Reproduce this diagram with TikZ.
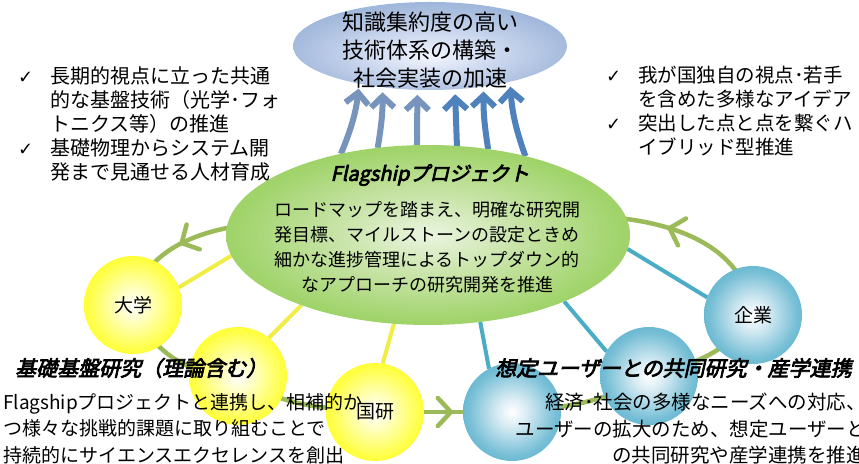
\documentclass[tikz,border=0pt]{standalone}
\usepackage{fontspec}
\usepackage{tikz}
\usetikzlibrary{shapes.geometric,arrows.meta,decorations.markings,backgrounds}
\setmainfont{Noto Sans CJK JP}
\newfontfamily\titlefont{Noto Sans CJK JP}[FakeSlant=0.22,FakeBold=3.5]
\newfontfamily\checkfont{DejaVu Sans}

\definecolor{linkblue}{RGB}{75,172,198}
\definecolor{linkyellow}{RGB}{240,238,70}
\definecolor{loopgreen}{RGB}{155,187,89}
\definecolor{arrowgray}{RGB}{118,148,188}
\definecolor{arrowblue}{RGB}{79,129,189}

\pgfdeclareradialshading{yellowball}{\pgfpoint{0bp}{0bp}}{rgb(0bp)=(1,1,1); rgb(7bp)=(1,1,0.8); rgb(22bp)=(1,1,0.3); rgb(33bp)=(1,1,0); rgb(50bp)=(1,1,0)}
\pgfdeclareradialshading{blueball}{\pgfpoint{0bp}{0bp}}{rgb(0bp)=(1,1,1); rgb(7bp)=(0.86,0.93,0.96); rgb(22bp)=(0.47,0.75,0.84); rgb(33bp)=(0.29,0.67,0.78); rgb(50bp)=(0.29,0.67,0.78)}
\pgfdeclareradialshading{flagshade}{\pgfpoint{0bp}{0bp}}{rgb(0bp)=(0.92,0.96,0.88); rgb(10bp)=(0.8,0.9,0.68); rgb(24bp)=(0.63,0.83,0.42); rgb(34bp)=(0.57,0.81,0.31); rgb(50bp)=(0.57,0.81,0.31)}
\pgfdeclareradialshading{goalshade}{\pgfpoint{0bp}{-6bp}}{rgb(0bp)=(0.95,0.96,0.99); rgb(10bp)=(0.83,0.87,0.95); rgb(24bp)=(0.66,0.74,0.87); rgb(34bp)=(0.55,0.67,0.84); rgb(50bp)=(0.55,0.67,0.84)}

\newcommand{\listmark}{\makebox[32pt][l]{\checkfont\fontsize{18}{18}\selectfont ✓}}

\tikzset{
	orb/.style={circle, minimum size=98pt, inner sep=0pt, outer sep=0pt, font=\fontsize{19}{19}\selectfont}, % the small circles
	uniorb/.style={orb, shading=yellowball}, % university / national labs
	firmorb/.style={orb, shading=blueball}, % companies / users
	yellowlink/.style={draw=linkyellow, line width=4pt},
	bluelink/.style={draw=linkblue, line width=4pt},
	loopline/.style={draw=loopgreen, line width=4.5pt},
	loopmark/.style={postaction={decorate}, decoration={markings, mark=at position #1 with {\arrow[loopgreen, line width=4.5pt]{Straight Barb[length=13pt,width=28pt,round]}}}},
	uparrow/.style={draw=#1, line width=6pt, -{Straight Barb[length=11pt,width=23pt]}, shorten >=5pt},
	listtext/.style={anchor=north west, inner sep=0pt},
}

\begin{document}
\begin{tikzpicture}[x=1pt,y=1pt]
\useasboundingbox (0,0) rectangle (859,463);

% the two ellipses
\node[ellipse, minimum width=274pt, minimum height=88pt, inner sep=0pt, outer sep=0pt, shading=goalshade] (goal) at (430,417) {};
\node[align=center, font=\fontsize{22}{28}\selectfont] (goaltext) at (430,413) {知識集約度の高い\\技術体系の構築・\\社会実装の加速};

\node[ellipse, minimum width=404pt, minimum height=180pt, inner sep=0pt, outer sep=0pt, shading=flagshade] (flag) at (428,228) {};
\node[font=\titlefont\fontsize{20}{20}\selectfont] (flagtitle) at (430,288) {Flagshipプロジェクト};
\node[align=center, font=\fontsize{18}{25}\selectfont] (flagtext) at (427,216) {ロードマップを踏まえ、明確な研究開\\発目標、マイルストーンの設定ときめ\\細かな進捗管理によるトップダウン的\\なアプローチの研究開発を推進};

% partners
\node[uniorb] (daigaku) at (133,158) {大学};
\node[uniorb] (kiso) at (238,87) {};
\node[uniorb] (kokken) at (375,51) {国研};
\node[firmorb] (kyodo) at (512,51) {};
\node[firmorb] (sangaku) at (649,87) {};
\node[firmorb] (kigyo) at (753,148) {企業};

% side notes
\node[listtext, font=\fontsize{20}{24}\selectfont] (leftlist) at (18,397) {\begin{tabular}{@{}l@{}l@{}}
\listmark & 長期的視点に立った共通\\
 & 的な基盤技術（光学･フォ\\
 & トニクス等）の推進\\
\listmark & 基礎物理からシステム開\\
 & 発まで見通せる人材育成
\end{tabular}};
\node[listtext, font=\fontsize{19.5}{24}\selectfont] (rightlist) at (606,397) {\begin{tabular}{@{}l@{}l@{}}
\listmark & 我が国独自の視点･若手\\
 & を含めた多様なアイデア\\
\listmark & 突出した点と点を繋ぐハ\\
 & イブリッド型推進
\end{tabular}};

\node[anchor=west, inner sep=0pt, font=\titlefont\fontsize{21}{21}\selectfont] (kisotitle) at (15,95) {基礎基盤研究（理論含む）};
\node[listtext, align=left, font=\fontsize{19}{26.5}\selectfont] (kisotext) at (3,70) {Flagshipプロジェクトと連携し、相補的か\\つ様々な挑戦的課題に取り組むことで\\持続的にサイエンスエクセレンスを創出};
\node[anchor=west, inner sep=0pt, font=\titlefont\fontsize{21}{21}\selectfont] (sangakutitle) at (495,95) {想定ユーザーとの共同研究・産学連携};
\node[anchor=north east, inner sep=0pt, align=right, font=\fontsize{19.5}{26.5}\selectfont] (sangakutext) at (866,70) {経済･社会の多様なニーズへの対応、\\ユーザーの拡大のため、想定ユーザーと\\の共同研究や産学連携を推進};

\begin{scope}[on background layer]
	% links from the project
	\draw[yellowlink] (flag.186) -- (daigaku.21);
	\draw[yellowlink] (flag.209) -- (kiso.51);
	\draw[yellowlink] (flag.249) -- (kokken.81);
	\draw[bluelink] (flag.301) -- (kyodo.118);
	\draw[bluelink] (flag.334) -- (sangaku.150);
	\draw[bluelink] (flag.356) -- (kigyo.159);
	% the cycle
	\draw[loopline, loopmark=0.76] (flag.center) .. controls (330,248) and (150,260) .. (daigaku.center);
	\draw[loopline] (daigaku.center) to[out=-70,in=180] (kiso.center);
	\draw[loopline] (kiso.center) to[out=-35,in=175] (kokken.center);
	\draw[loopline, loopmark=0.57] (kokken.center) -- (kyodo.center);
	\draw[loopline] (kyodo.center) to[out=5,in=210] (sangaku.center);
	\draw[loopline] (sangaku.center) to[out=15,in=235] (kigyo.center);
	\draw[loopline, loopmark=0.35] (kigyo.center) .. controls (740,260) and (560,262) .. (flag.center);
	% arrows to the goal
	\draw[uparrow=arrowgray] (flag.137) to[bend right=8] (goal.208);
	\draw[uparrow=arrowgray] (flag.120) to[bend right=5] (goal.221);
	\draw[uparrow=arrowgray] (flag.97) -- (goal.254);
	\draw[uparrow=arrowblue] (flag.72) -- (goal.300);
	\draw[uparrow=arrowblue] (flag.55) to[bend left=5] (goal.323);
	\draw[uparrow=arrowblue] (flag.39) to[bend left=8] (goal.336);
\end{scope}
\end{tikzpicture}
\end{document}
